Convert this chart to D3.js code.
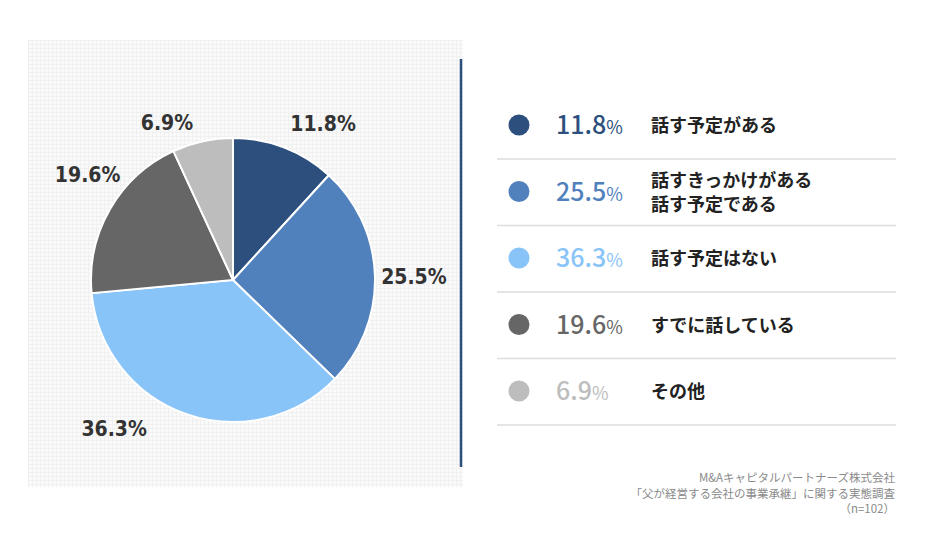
<!DOCTYPE html>
<html lang="ja">
<head>
<meta charset="UTF-8">
<title>父が経営する会社の事業承継</title>
<script src="https://cdn.jsdelivr.net/npm/d3@7/dist/d3.min.js"></script>
<style>
    body { margin: 0; background: #fff; }
    #chart { width: 930px; height: 550px; }
    .pie-label {
        font-family: "DejaVu Sans Condensed", "DejaVu Sans", sans-serif;
        font-stretch: condensed;
        font-weight: bold;
        font-size: 21px;
        fill: #333;
    }
    .legend-pct { font-family: "Noto Sans CJK JP", "Noto Sans", sans-serif; font-weight: 500; }
    .legend-label { font-family: "Noto Sans CJK JP", sans-serif; font-weight: 600; font-size: 18px; fill: #222; }
    .source { font-family: "Noto Sans CJK JP", sans-serif; font-size: 11.5px; fill: #8a8a8a; }
</style>
</head>
<body>
<div id="chart"></div>
<script>
    // data
    const categories = ['話す予定がある', '話すきっかけがある\n話す予定である', '話す予定はない', 'すでに話している', 'その他'];
    const values = [11.8, 25.5, 36.3, 19.6, 6.9];
    const colors = ['#2c4f7d', '#5181bd', '#89c4f8', '#666666', '#bdbdbd'];
    const sourceLines = ['M&Aキャピタルパートナーズ株式会社', '「父が経営する会社の事業承継」に関する実態調査', '（n=102）'];

    // label nudges (the original labels were hand placed)
    const labelNudge = [[26, 8], [4, 2], [-60, -18], [8, -17], [-28, 15]];

    const W = 930, H = 550;
    const svg = d3.select('#chart').append('svg')
        .attr('width', W)
        .attr('height', H);

    // grid background panel
    const defs = svg.append('defs');
    const pat = defs.append('pattern')
        .attr('id', 'grid')
        .attr('width', 4)
        .attr('height', 4)
        .attr('patternUnits', 'userSpaceOnUse');
    pat.append('rect').attr('width', 4).attr('height', 4).attr('fill', '#fafafa');
    pat.append('path').attr('d', 'M0 0.5H4M0.5 0V4').attr('stroke', '#f0f0f0').attr('stroke-width', 1);

    svg.append('rect')
        .attr('x', 28).attr('y', 40)
        .attr('width', 435).attr('height', 447)
        .attr('fill', 'url(#grid)');

    svg.append('line')
        .attr('x1', 461).attr('x2', 461)
        .attr('y1', 59).attr('y2', 467)
        .attr('stroke', '#2c4f7d')
        .attr('stroke-width', 2.5);

    // pie
    const cx = 233, cy = 280, r = 142;
    const pie = d3.pie().sort(null).value(d => d);
    const arcs = pie(values);
    const arc = d3.arc().innerRadius(0).outerRadius(r);
    const labelArc = d3.arc().innerRadius(r + 35).outerRadius(r + 35);

    const g = svg.append('g').attr('transform', `translate(${cx},${cy})`);
    g.selectAll('path')
        .data(arcs)
        .enter()
        .append('path')
        .attr('d', arc)
        .attr('fill', (d, i) => colors[i])
        .attr('stroke', '#fff')
        .attr('stroke-width', 2);

    g.selectAll('.pie-label')
        .data(arcs)
        .enter()
        .append('text')
        .attr('class', 'pie-label')
        .attr('text-anchor', 'middle')
        .attr('dy', '0.36em')
        .attr('x', (d, i) => labelArc.centroid(d)[0] + labelNudge[i][0])
        .attr('y', (d, i) => labelArc.centroid(d)[1] + labelNudge[i][1])
        .text(d => d.data.toFixed(1) + '%');

    // legend
    const rowY = d3.scaleLinear().domain([0, 1]).range([125, 191.5]);
    const legend = svg.append('g');
    const rows = legend.selectAll('g')
        .data(values)
        .enter()
        .append('g')
        .attr('transform', (d, i) => `translate(0,${rowY(i)})`);

    rows.append('circle')
        .attr('cx', 519)
        .attr('r', 10.5)
        .attr('fill', (d, i) => colors[i]);

    const pct = rows.append('text')
        .attr('class', 'legend-pct')
        .attr('x', 556)
        .attr('y', 9)
        .attr('fill', (d, i) => colors[i]);
    pct.append('tspan').attr('font-size', '25px').text(d => d.toFixed(1));
    pct.append('tspan').attr('font-size', '18px').attr('font-weight', 400).text('%');

    rows.append('text')
        .attr('class', 'legend-label')
        .attr('x', 651)
        .each(function (d, i) {
            const lines = categories[i].split('\n');
            const t = d3.select(this);
            lines.forEach((ln, j) => {
                t.append('tspan')
                    .attr('x', 651)
                    .attr('y', 7 + (j - (lines.length - 1) / 2) * 24)
                    .text(ln);
            });
        });

    rows.append('line')
        .attr('x1', 497).attr('x2', 896)
        .attr('y1', 34).attr('y2', 34)
        .attr('stroke', '#dddddd')
        .attr('stroke-width', 1.5);

    // source
    svg.append('text')
        .attr('class', 'source')
        .attr('text-anchor', 'end')
        .selectAll('tspan')
        .data(sourceLines)
        .enter()
        .append('tspan')
        .attr('x', 895)
        .attr('y', (d, i) => 482 + i * 15.5)
        .text(d => d);
</script>
</body>
</html>
